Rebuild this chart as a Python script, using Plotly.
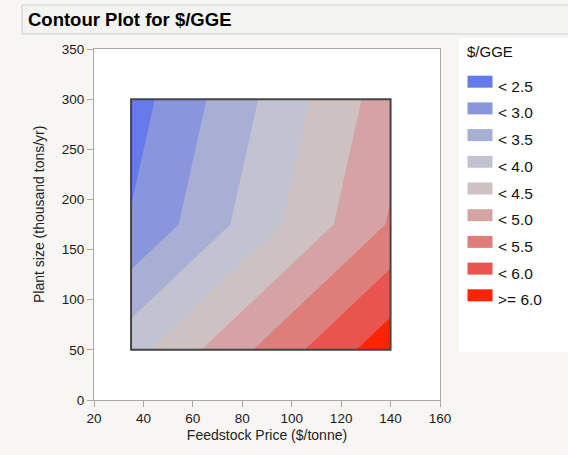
import plotly.graph_objects as go

# ---- data ----
feedstock_price = [35, 140]            # $/tonne (grid columns)
plant_size = [50, 175, 300]            # thousand tons/yr (grid rows)
gge_cost = [                           # $/GGE at each grid node (rows = plant_size)
    [3.82, 6.33],
    [2.54, 5.05],
    [2.27, 4.78],
]
level_start, level_end, level_step = 2.5, 6.0, 0.5
legend_labels = ["< 2.5", "< 3.0", "< 3.5", "< 4.0", "< 4.5",
                 "< 5.0", "< 5.5", "< 6.0", ">= 6.0"]
band_colors = ["#667AEB", "#8996DE", "#A8AED4", "#C1C4D0", "#CDC1C1",
               "#D5A3A3", "#DE7E7A", "#EA544E", "#FF2400"]
x_ticks = [20, 40, 60, 80, 100, 120, 140, 160]
y_ticks = [0, 50, 100, 150, 200, 250, 300, 350]

W, H = 568, 455
L, R, T, B = 94, 440, 49, 400   # plot area in pixels
BG = "#f7f6f2"
FONT = "Liberation Sans, Arial"

def px(xp):
    return (xp - L) / (R - L)

def py(yp):
    return (B - yp) / (B - T)

n = len(band_colors)
colorscale = [[i / (n - 1), c] for i, c in enumerate(band_colors)]

fig = go.Figure()
fig.add_trace(go.Contour(
    x=feedstock_price, y=plant_size, z=gge_cost,
    contours=dict(start=level_start, end=level_end, size=level_step,
                  coloring="fill", showlines=False),
    line=dict(width=0, smoothing=0),
    colorscale=colorscale, showscale=False, hoverinfo="skip",
))

shapes = []
# border around data region
shapes.append(dict(type="rect", xref="x", yref="y",
                   x0=min(feedstock_price), x1=max(feedstock_price),
                   y0=min(plant_size), y1=max(plant_size),
                   line=dict(color="#454545", width=2), layer="above"))
# title bar
shapes.append(dict(type="rect", xref="paper", yref="paper",
                   x0=px(22), x1=px(575), y0=py(34), y1=py(5),
                   fillcolor="#f3f3f2", line=dict(color="#cfcfcf", width=1),
                   layer="below"))
# legend box
shapes.append(dict(type="rect", xref="paper", yref="paper",
                   x0=px(459), x1=px(575), y0=py(352), y1=py(38),
                   fillcolor="white", line=dict(width=0), layer="below"))

annotations = [
    dict(text="<b>Contour Plot for $/GGE</b>", xref="paper", yref="paper",
         x=px(26), y=py(20), xanchor="left", yanchor="middle", showarrow=False,
         font=dict(size=18.5, color="black", family=FONT)),
    dict(text="$/GGE", xref="paper", yref="paper",
         x=px(465), y=py(52), xanchor="left", yanchor="middle", showarrow=False,
         font=dict(size=15, color="#111", family=FONT)),
    dict(text="Plant size (thousand tons/yr)", xref="paper", yref="paper",
         x=px(39), y=py(215), xanchor="center", yanchor="middle", showarrow=False,
         textangle=-90, font=dict(size=14, color="#222", family=FONT)),
]
for i, (lab, col) in enumerate(zip(legend_labels, band_colors)):
    top = 75.7 + i * 26.7
    shapes.append(dict(type="rect", xref="paper", yref="paper",
                       x0=px(467.5), x1=px(492.5), y0=py(top + 12), y1=py(top),
                       fillcolor=col, line=dict(width=0), layer="above"))
    annotations.append(dict(text=lab, xref="paper", yref="paper",
                            x=px(496), y=py(top + 10.5), xanchor="left",
                            yanchor="middle", showarrow=False,
                            font=dict(size=15.5, color="#111", family=FONT)))

axis_common = dict(showline=True, linecolor="#a9a9a9", linewidth=1, mirror=True,
                   ticks="outside", ticklen=6, tickcolor="#a9a9a9",
                   showgrid=False, zeroline=False,
                   tickfont=dict(size=13.5, color="#1a1a1a", family=FONT))

fig.update_layout(
    width=W, height=H,
    margin=dict(l=L, r=W - R, t=T, b=H - B, pad=0),
    paper_bgcolor=BG, plot_bgcolor="white",
    showlegend=False,
    xaxis=dict(range=[x_ticks[0], x_ticks[-1]], tickvals=x_ticks,
               title=dict(text="Feedstock Price ($/tonne)", standoff=4,
                          font=dict(size=14, color="#222", family=FONT)),
               **axis_common),
    yaxis=dict(range=[y_ticks[0], y_ticks[-1]], tickvals=y_ticks, **axis_common),
    shapes=shapes, annotations=annotations,
)

fig.write_html("out.html", config={"displayModeBar": False},
               post_script="document.body.style.margin='0';"
                           "document.body.style.background='" + BG + "';")
